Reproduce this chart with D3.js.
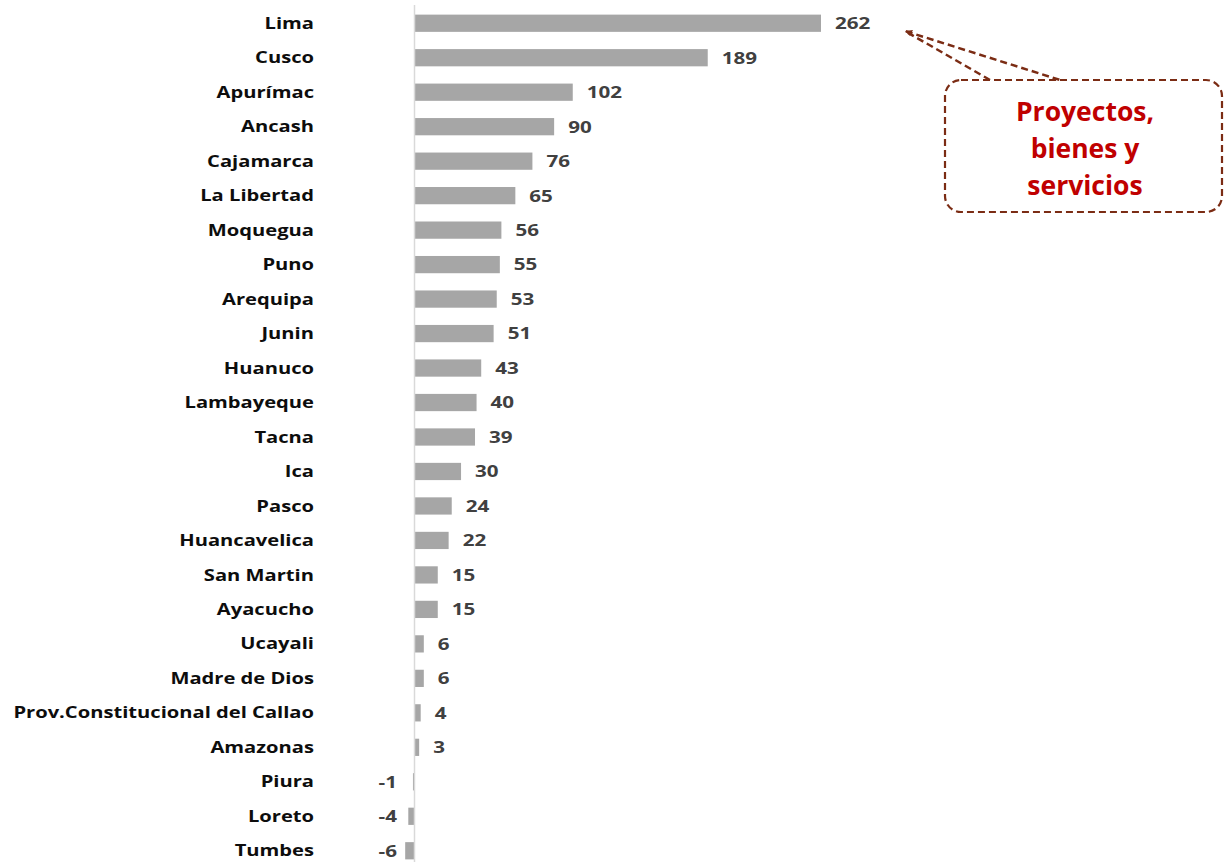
<!DOCTYPE html>
<html><head><meta charset="utf-8">
<script src="https://cdn.jsdelivr.net/npm/d3@7"></script>
<style>body{margin:0;background:#fff}svg{display:block}</style>
</head><body>
<svg id="c" width="1224" height="862"></svg>
<script>
const categories = ["Lima","Cusco","Apurímac","Ancash","Cajamarca","La Libertad","Moquegua","Puno","Arequipa","Junin","Huanuco","Lambayeque","Tacna","Ica","Pasco","Huancavelica","San Martin","Ayacucho","Ucayali","Madre de Dios","Prov.Constitucional del Callao","Amazonas","Piura","Loreto","Tumbes"];
const values = [262,189,102,90,76,65,56,55,53,51,43,40,39,30,24,22,15,15,6,6,4,3,-1,-4,-6];
const calloutLines = ["Proyectos,","bienes y","servicios"];

const svg = d3.select("#c");
const x = d3.scaleLinear().domain([0,262]).range([414.5,821]);
const y = d3.scaleBand().domain(categories).range([6,868]).paddingInner(0.5).paddingOuter(0.25);

const font = "'Open Sans', sans-serif";

svg.append("g").selectAll("rect").data(categories).join("rect")
  .attr("x",(d,i)=>Math.min(x(0),x(values[i])))
  .attr("width",(d,i)=>Math.abs(x(values[i])-x(0)))
  .attr("y",d=>y(d)).attr("height",y.bandwidth())
  .attr("fill","#a6a6a6");

svg.append("line").attr("x1",x(0)).attr("x2",x(0)).attr("y1",5).attr("y2",862)
  .attr("stroke","#d9d9d9").attr("stroke-width",1.5);

svg.append("g").selectAll("text").data(categories).join("text")
  .attr("transform",d=>`translate(314,${y(d)+y.bandwidth()/2}) scale(1.3,1)`)
  .attr("dy","0.36em")
  .attr("text-anchor","end").attr("font-family",font).attr("font-weight",700)
  .attr("font-size",15.5).attr("fill","#0d0d0d").text(d=>d);

svg.append("g").selectAll("text").data(categories).join("text")
  .attr("transform",(d,i)=>`translate(${values[i]>=0 ? x(values[i])+14 : 397},${y(d)+y.bandwidth()/2}) scale(1.33,1)`)
  .attr("text-anchor",(d,i)=>values[i]>=0?"start":"end")
  .attr("dy","0.38em")
  .attr("font-family",font).attr("font-weight",700).attr("font-size",15.5)
  .attr("fill","#404040").text((d,i)=>values[i]);

// callout
const stroke = "#7b2c14";
const g = svg.append("g");
g.append("path").attr("d","M990,80 L905,31 L1060,80").attr("fill","none")
  .attr("stroke",stroke).attr("stroke-width",2.5).attr("stroke-dasharray","7,4");
g.append("rect").attr("x",945).attr("y",80).attr("width",277).attr("height",132)
  .attr("rx",16).attr("fill","none").attr("stroke",stroke).attr("stroke-width",2.2).attr("stroke-dasharray","7,4");
g.append("polygon").attr("points","905,31 913,30 910,36").attr("fill",stroke);
g.selectAll("text.c").data(calloutLines).join("text").attr("class","c")
  .attr("x",1085).attr("y",(d,i)=>121+i*37).attr("text-anchor","middle")
  .attr("font-family",font).attr("font-weight",700).attr("font-size",26.5).attr("fill","#c00000").text(d=>d);
</script>
</body></html>
